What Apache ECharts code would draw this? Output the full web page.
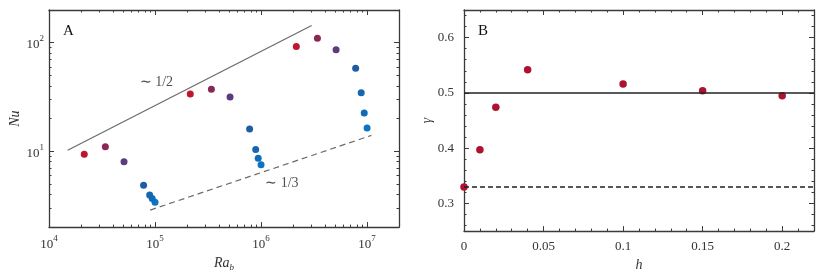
<!DOCTYPE html>
<html><head><meta charset="utf-8">
<script src="https://cdn.jsdelivr.net/npm/echarts@6/dist/echarts.min.js"></script>
<style>html,body{margin:0;padding:0;background:#fff}#c{width:830px;height:277px}</style>
</head><body><div id="c"></div>
<script>
// ---------- DATA ----------
const hValues = [0, 0.01, 0.02, 0.04, 0.1, 0.15, 0.2];
// Panel A: Ra_b and Nu for each h (three Ra groups)
const raByH = [
  [1.0e5, 1.0e6, 1.0e7],
  [9.4e4, 9.4e5, 9.4e6],
  [8.9e4, 8.9e5, 8.8e6],
  [7.8e4, 7.8e5, 7.8e6],
  [5.1e4, 5.1e5, 5.1e6],
  [3.4e4, 3.4e5, 3.4e6],
  [2.15e4, 2.15e5, 2.15e6]
];
const nuByH = [
  [3.39, 7.5, 16.4],
  [3.67, 8.6, 22.5],
  [3.95, 10.4, 34.6],
  [4.85, 16.0, 58],
  [8.0, 31.6, 86],
  [11.0, 37.3, 110],
  [9.4, 33.6, 92]
];
const halfLineRa = [1.5e4, 3.0e6];
const halfLineNu = [10.2, 144];
const thirdLineRa = [9.0e4, 1.1e7];
const thirdLineNu = [2.87, 14.0];
const slopeLabels = ['∼ 1/2', '∼ 1/3'];
const slopeLabelRa = [1.03e5, 1.57e6];
const slopeLabelNu = [42.8, 5.06];
// Panel B: gamma vs h
const gammaValues = [0.33, 0.397, 0.474, 0.542, 0.516, 0.504, 0.495];
const gammaRefLines = [0.5, 1/3];
// Tick values
const raMajorTicks = [1e4, 1e5, 1e6, 1e7];
const raMinorTicks = [2e4,3e4,4e4,5e4,6e4,7e4,8e4,9e4,2e5,3e5,4e5,5e5,6e5,7e5,8e5,9e5,2e6,3e6,4e6,5e6,6e6,7e6,8e6,9e6];
const nuMajorTicks = [10, 100];
const nuMinorTicks = [3,4,5,6,7,8,9,20,30,40,50,60,70,80,90];
const hMajorTicks = [0, 0.05, 0.1, 0.15, 0.2];
const hMinorTicks = [0.01,0.02,0.03,0.04,0.06,0.07,0.08,0.09,0.11,0.12,0.13,0.14,0.16,0.17,0.18,0.19,0.21];
const gammaMajorTicks = [0.3, 0.4, 0.5, 0.6];
const gammaMinorTicks = [0.26,0.28,0.32,0.34,0.36,0.38,0.42,0.44,0.46,0.48,0.52,0.54,0.56,0.58,0.62,0.64];

// ---------- STYLE ----------
const FONT = 'Liberation Serif';
const AX = '#3a3a3a';
const hColors = ['#0b74c4', '#0e6dbb', '#1467b3', '#1f5ca5', '#5b3c7e', '#8a2752', '#c0152f'];
const pointB = '#ad1230';

const supRich = {
  b: {fontFamily: FONT, fontSize: 13, color: '#333', lineHeight: 17, verticalAlign: 'bottom'},
  s: {fontFamily: FONT, fontSize: 9, color: '#333', lineHeight: 17, verticalAlign: 'top'}
};
function powLabel(v) {
  const e = Math.round(Math.log10(v));
  return '{b|10}{s|' + e + '}';
}

function axes(dim, grid, type, min, max, major, minor, labelOpt, nameOpt) {
  const posA = dim === 'x' ? 'bottom' : 'left';
  const posB = dim === 'x' ? 'top' : 'right';
  const base = {type: type, gridIndex: grid, min: min, max: max, splitLine: {show: false},
                logBase: 10};
  const list = [];
  list.push(Object.assign({}, base, nameOpt || {}, {
    position: posA,
    axisLine: {show: true, onZero: false, lineStyle: {color: AX, width: 1.3}},
    axisTick: {show: true, inside: true, length: 5, customValues: major, lineStyle: {color: AX, width: 1}},
    axisLabel: Object.assign({show: true, customValues: major, fontFamily: FONT, fontSize: 13, color: '#333'}, labelOpt)
  }));
  list.push(Object.assign({}, base, {
    position: posA,
    axisLine: {show: false, onZero: false},
    axisTick: {show: true, inside: true, length: 2.5, customValues: minor, lineStyle: {color: AX, width: 1}},
    axisLabel: {show: false}
  }));
  list.push(Object.assign({}, base, {
    position: posB,
    axisLine: {show: true, onZero: false, lineStyle: {color: AX, width: 1.3}},
    axisTick: {show: true, inside: true, length: 5, customValues: major, lineStyle: {color: AX, width: 1}},
    axisLabel: {show: false}
  }));
  list.push(Object.assign({}, base, {
    position: posB,
    axisLine: {show: false, onZero: false},
    axisTick: {show: true, inside: true, length: 2.5, customValues: minor, lineStyle: {color: AX, width: 1}},
    axisLabel: {show: false}
  }));
  return list;
}

const xAxes = [].concat(
  axes('x', 0, 'log', 1e4, 2e7, raMajorTicks, raMinorTicks,
       {formatter: powLabel, rich: supRich, margin: 7},
       {name: '{i|Ra}{s|b}', nameLocation: 'middle', nameGap: 21,
        nameTextStyle: {rich: {
          i: {fontFamily: FONT, fontStyle: 'italic', fontSize: 14, color: '#333', lineHeight: 16, verticalAlign: 'top'},
          s: {fontFamily: FONT, fontStyle: 'italic', fontSize: 9, color: '#333', lineHeight: 16, verticalAlign: 'bottom'}}}}),
  axes('x', 1, 'value', 0, 0.22, hMajorTicks, hMinorTicks,
       {margin: 9},
       {name: 'h', nameLocation: 'middle', nameGap: 20,
        nameTextStyle: {fontFamily: FONT, fontStyle: 'italic', fontSize: 14, color: '#333'}})
);
const yAxes = [].concat(
  axes('y', 0, 'log', 2, 200, nuMajorTicks, nuMinorTicks,
       {formatter: powLabel, rich: supRich, margin: 5},
       {name: 'Nu', nameLocation: 'middle', nameGap: 25,
        nameTextStyle: {fontFamily: FONT, fontStyle: 'italic', fontSize: 14, color: '#333'}}),
  axes('y', 1, 'value', 0.25, 0.65, gammaMajorTicks, gammaMinorTicks,
       {margin: 10},
       {name: 'γ', nameLocation: 'middle', nameGap: 22,
        nameTextStyle: {fontFamily: FONT, fontStyle: 'italic', fontSize: 14, color: '#333'}})
);

const series = [];
series.push({type: 'line', xAxisIndex: 0, yAxisIndex: 0, symbol: 'none', silent: true,
  data: halfLineRa.map((r, i) => [r, halfLineNu[i]]),
  lineStyle: {color: '#6a6a6a', width: 1.2}, z: 1});
series.push({type: 'line', xAxisIndex: 0, yAxisIndex: 0, symbol: 'none', silent: true,
  data: thirdLineRa.map((r, i) => [r, thirdLineNu[i]]),
  lineStyle: {color: '#6a6a6a', width: 1.2, type: [6, 4]}, z: 1});
series.push({type: 'scatter', xAxisIndex: 0, yAxisIndex: 0, symbolSize: 0, silent: true,
  data: slopeLabels.map((t, i) => ({value: [slopeLabelRa[i], slopeLabelNu[i]], name: t})),
  label: {show: true, position: 'inside', formatter: p => p.name, fontFamily: FONT, fontSize: 14, color: '#222'}});
hValues.forEach((h, k) => {
  series.push({type: 'scatter', name: 'h=' + h, xAxisIndex: 0, yAxisIndex: 0,
    symbol: 'circle', symbolSize: 7, z: 3,
    itemStyle: {color: hColors[k], opacity: 1},
    data: raByH[k].map((r, i) => [r, nuByH[k][i]])});
});
series.push({type: 'scatter', xAxisIndex: 4, yAxisIndex: 4, symbol: 'circle', symbolSize: 7.5, z: 3,
  itemStyle: {color: pointB, opacity: 1},
  data: hValues.map((h, i) => [h, gammaValues[i]]),
  markLine: {silent: true, symbol: 'none', label: {show: false},
    data: [
      {yAxis: gammaRefLines[0], lineStyle: {color: '#222', width: 1.6, type: 'solid'}},
      {yAxis: gammaRefLines[1], lineStyle: {color: '#222', width: 1.6, type: [5, 3]}}
    ]}});

const chart = echarts.init(document.getElementById('c'), null, {renderer: 'canvas'});
chart.setOption({
  backgroundColor: '#fff',
  animation: false,
  grid: [
    {left: 49, top: 10, width: 350, height: 222},
    {left: 464, top: 10, width: 350, height: 222}
  ],
  xAxis: xAxes,
  yAxis: yAxes,
  graphic: [
    {type: 'text', left: 63, top: 24, style: {text: 'A', font: '15px "Liberation Serif"', fill: '#111'}},
    {type: 'text', left: 478, top: 24, style: {text: 'B', font: '15px "Liberation Serif"', fill: '#111'}}
  ],
  series: series
});
</script></body></html>
